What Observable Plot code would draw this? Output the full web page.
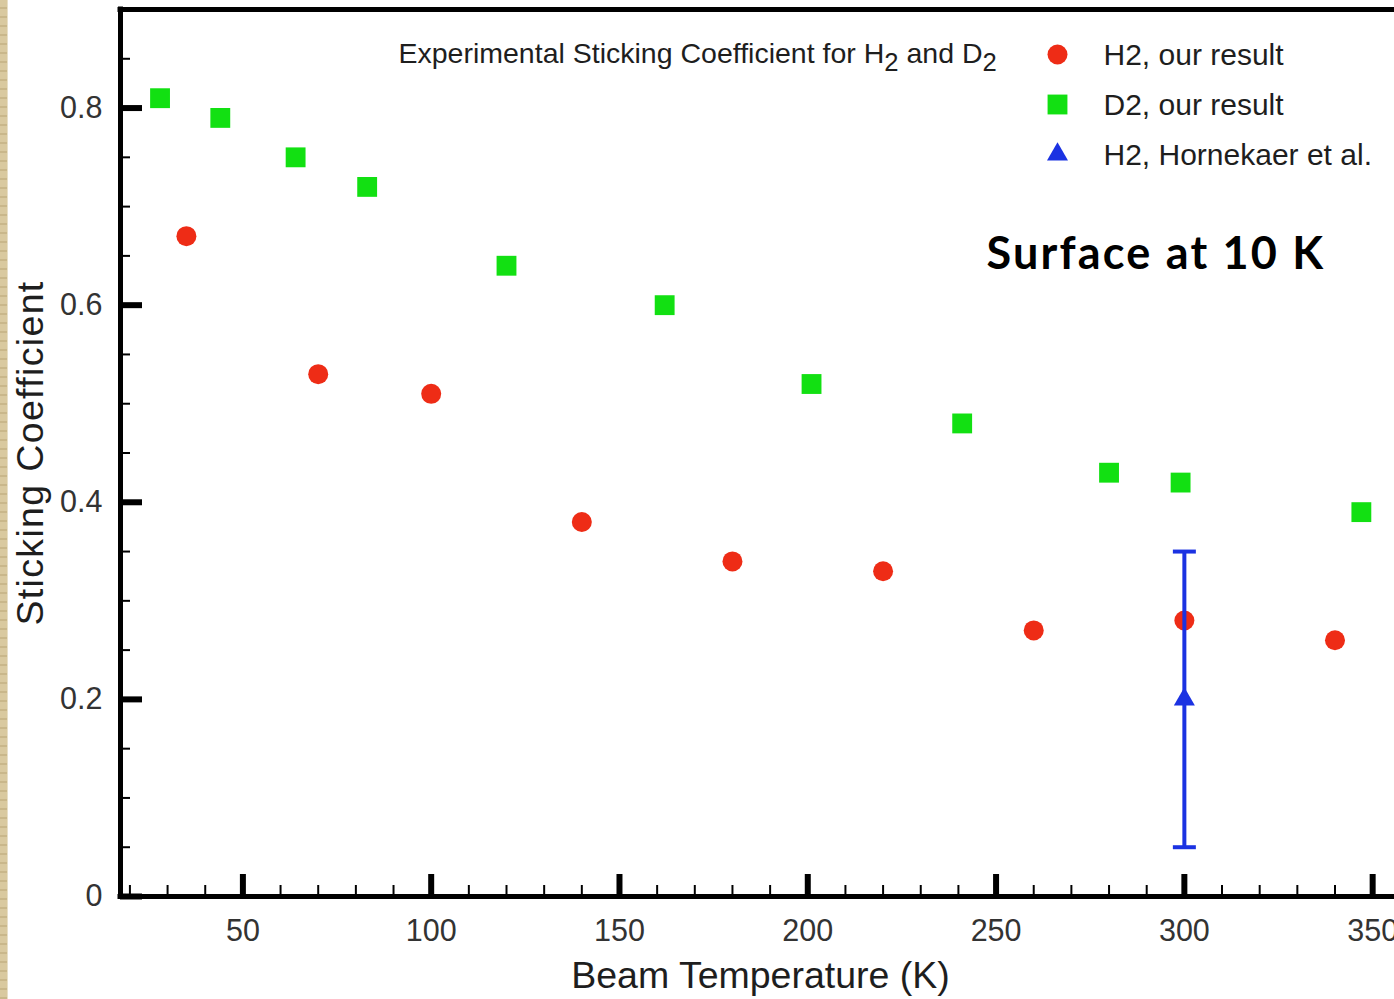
<!DOCTYPE html>
<html>
<head>
<meta charset="utf-8">
<script src="https://cdn.jsdelivr.net/npm/d3@7"></script>
<script src="https://cdn.jsdelivr.net/npm/@observablehq/plot@0.6"></script>
<style>
  html, body { margin: 0; padding: 0; background: #fff; }
  #wrap { position: relative; width: 1394px; height: 999px; overflow: hidden; background: #fff; }
  #strip { position: absolute; left: 0; top: 0; width: 7px; height: 999px;
    background: repeating-linear-gradient(180deg, #d9c99f 0px, #d9c99f 7px, #c9b78a 7px, #c9b78a 9px);
    border-right: 1px solid #e8dfc6; }
</style>
</head>
<body>
<div id="wrap"><div id="strip"></div></div>
<script>
// ---- data ----
const h2Temp  = [35, 70, 100, 140, 180, 220, 260, 300, 340];
const h2Stick = [0.67, 0.53, 0.51, 0.38, 0.34, 0.33, 0.27, 0.28, 0.26];

const d2Temp  = [28, 44, 64, 83, 120, 162, 201, 241, 280, 299, 347];
const d2Stick = [0.81, 0.79, 0.75, 0.72, 0.64, 0.60, 0.52, 0.48, 0.43, 0.42, 0.39];

const hornTemp  = [300];
const hornStick = [0.20];
const hornLow   = [0.05];
const hornHigh  = [0.35];

const xDomain = [17.5, 355.8];
const yDomain = [0, 0.9];
const xMajorTicks = [50, 100, 150, 200, 250, 300, 350];
const xTickLabels = ["50", "100", "150", "200", "250", "300", "350"];
const xMinorTicks = [20, 30, 40, 60, 70, 80, 90, 110, 120, 130, 140, 160, 170, 180, 190,
                     210, 220, 230, 240, 260, 270, 280, 290, 310, 320, 330, 340];
const yMajorTicks = [0, 0.2, 0.4, 0.6, 0.8];
const yTickLabels = ["0", "0.2", "0.4", "0.6", "0.8"];
const yMinorTicks = [0.05, 0.1, 0.15, 0.25, 0.3, 0.35, 0.45, 0.5, 0.55, 0.65, 0.7, 0.75, 0.85];

const legendLabels = ["H2, our result", "D2, our result", "H2, Hornekaer et al."];
const titleParts = [
  {text: "Experimental Sticking Coefficient for H", sub: false},
  {text: "2", sub: true},
  {text: " and D", sub: false},
  {text: "2", sub: true}
];
const annotation = "Surface at 10 K";
const xLabel = "Beam Temperature (K)";
const yLabel = "Sticking Coefficient";

// ---- build ----
const red = "#ee2c16", green = "#12e012", blue = "#1b32e2";
const font = "'Liberation Sans', Arial, Helvetica, sans-serif";
const ink = "#1e1e1e";

const h2 = h2Temp.map((t, i) => ({t, s: h2Stick[i]}));
const d2 = d2Temp.map((t, i) => ({t, s: d2Stick[i]}));
const horn = hornTemp.map((t, i) => ({t, s: hornStick[i], lo: hornLow[i], hi: hornHigh[i]}));
const hornCaps = horn.flatMap(d => [{t: d.t, v: d.lo}, {t: d.t, v: d.hi}]);
const titleText = titleParts.map(p => p.text).join("");

const capSymbol = {
  draw(context, size) {
    const w = Math.sqrt(size / Math.PI);
    context.moveTo(-w, 0);
    context.lineTo(w, 0);
  }
};

const legendSymbols = ["circle", "square", "triangle"];
const legendColors = [red, green, blue];
const legendR = [10, 11.2, 7.8];

const legendMarks = legendLabels.flatMap((label, i) => [
  Plot.dot([label], {frameAnchor: "top-left", dx: 937, dy: 45 + 50 * i,
    symbol: legendSymbols[i], r: legendR[i], fill: legendColors[i]}),
  Plot.text([label], {frameAnchor: "top-left", dx: 983, dy: 55 + 50 * i, text: d => d,
    textAnchor: "start", lineAnchor: "bottom", fontSize: 30, fill: ink})
]);

const chart = Plot.plot({
  width: 1394,
  height: 999,
  marginLeft: 120,
  marginRight: 0,
  marginTop: 9,
  marginBottom: 103,
  style: {fontFamily: font, color: ink, background: "transparent"},
  x: {domain: xDomain, label: null},
  y: {domain: yDomain, label: null},
  marks: [
    // frame spines
    Plot.ruleY([yDomain[0]], {stroke: "#000", strokeWidth: 5, strokeLinecap: "square"}),
    Plot.ruleY([yDomain[1]], {stroke: "#000", strokeWidth: 5, strokeLinecap: "square"}),
    Plot.ruleX([xDomain[0]], {stroke: "#000", strokeWidth: 5, strokeLinecap: "square"}),
    // inward ticks
    Plot.axisX(xMinorTicks, {tickSize: -11, strokeWidth: 2, stroke: "#000", tickFormat: () => "", label: null}),
    Plot.axisX(xMajorTicks, {tickSize: -22, strokeWidth: 6, stroke: "#000", tickPadding: 45,
      tickFormat: d => xTickLabels[xMajorTicks.indexOf(d)], fontSize: 30.5, fill: "#333", label: null}),
    Plot.axisY(yMinorTicks, {tickSize: -10, strokeWidth: 2, stroke: "#000", tickFormat: () => "", label: null}),
    Plot.axisY(yMajorTicks, {tickSize: -22, strokeWidth: 6, stroke: "#000", tickPadding: 40,
      tickFormat: d => yTickLabels[yMajorTicks.indexOf(d)], fontSize: 30.5, fill: "#333", label: null}),
    // data
    Plot.dot(h2, {x: "t", y: "s", r: 10, fill: red, symbol: "circle"}),
    Plot.dot(d2, {x: "t", y: "s", r: 11.2, fill: green, symbol: "square"}),
    Plot.ruleX(horn, {x: "t", y1: "lo", y2: "hi", stroke: blue, strokeWidth: 4}),
    Plot.dot(hornCaps, {x: "t", y: "v", symbol: capSymbol, r: 11.5, stroke: blue, strokeWidth: 4, fill: "none"}),
    Plot.dot(horn, {x: "t", y: "s", symbol: "triangle", r: 7.8, fill: blue}),
    // title inside frame
    Plot.text([titleText], {frameAnchor: "top-left", dx: 278, dy: 53.5, text: d => d,
      textAnchor: "start", lineAnchor: "bottom", fontSize: 28.5, fill: ink}),
    ...legendMarks,
    Plot.text([annotation], {frameAnchor: "top-left", dx: 866, dy: 259, text: d => d,
      textAnchor: "start", lineAnchor: "bottom", fontFamily: "Lato, 'Open Sans', sans-serif",
      fontWeight: "bold", fontSize: 45, fill: "#000"}),
    // axis labels
    Plot.text([xLabel], {frameAnchor: "bottom", dx: 3, dy: 91, text: d => d,
      textAnchor: "middle", lineAnchor: "bottom", fontSize: 37.5, fill: ink}),
    Plot.text([yLabel], {frameAnchor: "left", dx: -78, rotate: -90, text: d => d,
      textAnchor: "middle", lineAnchor: "bottom", fontSize: 37.5, fill: ink})
  ]
});

// subscripts in the title, spacing tweaks
chart.querySelectorAll("text").forEach(t => {
  if (t.textContent === titleText) {
    t.textContent = "";
    titleParts.forEach((p, i) => {
      const ts = document.createElementNS("http://www.w3.org/2000/svg", "tspan");
      ts.textContent = p.text;
      if (p.sub) {
        ts.setAttribute("dy", "8");
        ts.setAttribute("font-size", "0.9em");
      } else if (i > 0 && titleParts[i - 1].sub) {
        ts.setAttribute("dy", "-8");
      }
      t.appendChild(ts);
    });
  } else if (t.textContent === yLabel) {
    t.style.letterSpacing = "1.35px";
  } else if (t.textContent === annotation) {
    t.style.letterSpacing = "2.2px";
  }
});

chart.style.position = "absolute";
chart.style.left = "0";
chart.style.top = "0";
document.getElementById("wrap").appendChild(chart);
</script>
</body>
</html>
